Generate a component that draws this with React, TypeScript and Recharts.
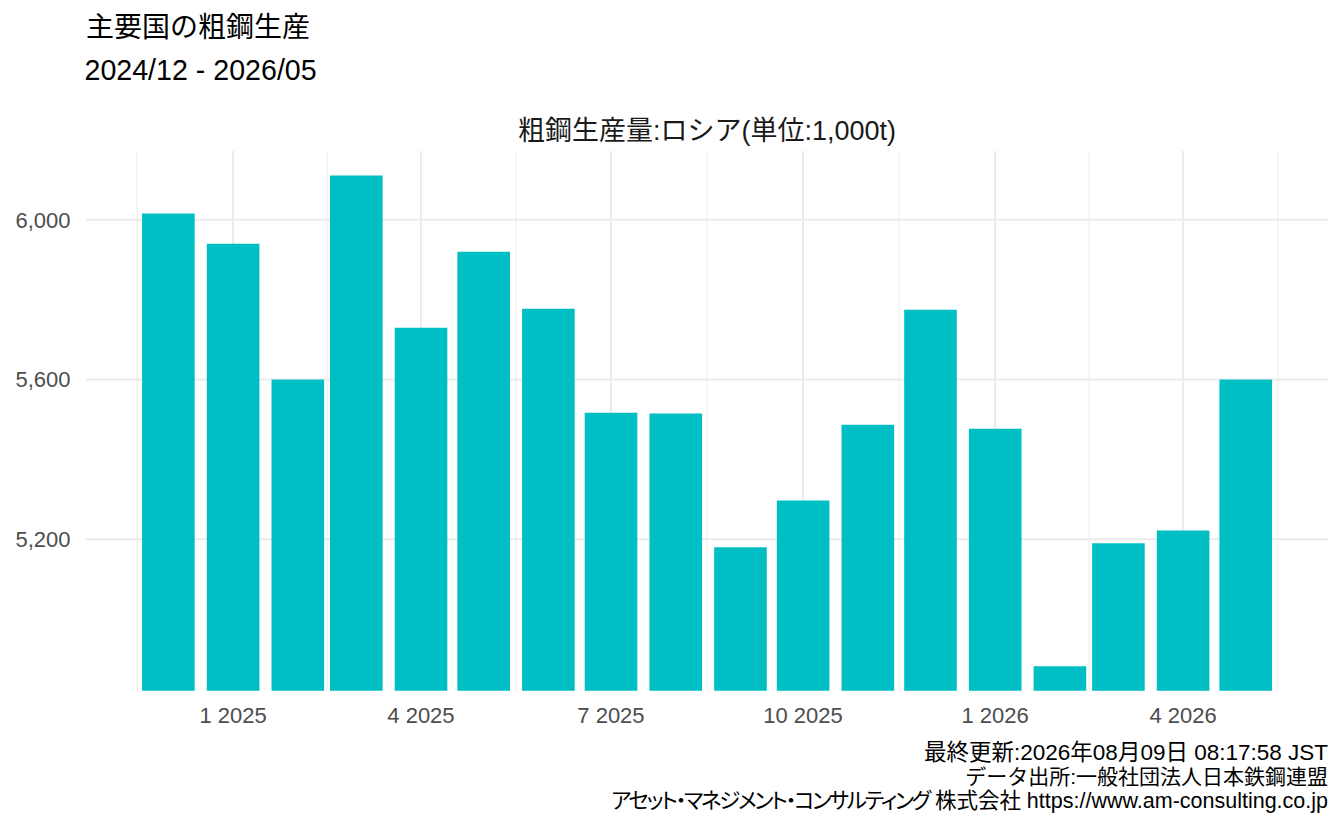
import React from "react";
import { Bar, BarChart, CartesianGrid, XAxis, YAxis } from "recharts";

const months = [
  "2024-12", "2025-01", "2025-02", "2025-03", "2025-04", "2025-05",
  "2025-06", "2025-07", "2025-08", "2025-09", "2025-10", "2025-11",
  "2025-12", "2026-01", "2026-02", "2026-03", "2026-04", "2026-05",
];
const production = [
  6016, 5940, 5600, 6111, 5730, 5920, 5777, 5517, 5515, 5180, 5297, 5487,
  5775, 5477, 4882, 5190, 5222, 5600,
];
const xBreaks = ["2024-10", "2025-01", "2025-04", "2025-07", "2025-10", "2026-01", "2026-04", "2026-07"];
const yTicks = [5200, 5600, 6000];
const yMinorTicks = [5000, 5400, 5800];

const title = "主要国の粗鋼生産";
const subtitle = "2024/12 - 2026/05";
const chartTitle = "粗鋼生産量:ロシア(単位:1,000t)";
const updated = "最終更新:2026年08月09日 08:17:58 JST";
const source = "データ出所:一般社団法人日本鉄鋼連盟";
const company = "アセット・マネジメント・コンサルティング";
const companySuffix = " 株式会社 https://www.am-consulting.co.jp";

const toDay = (ym: string) => {
  const [y, m] = ym.split("-").map(Number);
  return Date.UTC(y, m - 1, 1) / 86400000;
};

const data = months.map((m, i) => ({ t: toDay(m), value: production[i] }));

// ggplot-like limits: bar width 0.9 * smallest gap, then 5% expansion
const days = data.map((d) => d.t);
const minGap = Math.min(...days.slice(1).map((d, i) => d - days[i]));
const halfBar = (0.9 * minGap) / 2;
const xLo = days[0] - halfBar;
const xHi = days[days.length - 1] + halfBar;
const xPad = (xHi - xLo) * 0.05;
const xDomain: [number, number] = [xLo - xPad, xHi + xPad];

const yMin = Math.min(...production);
const yMax = Math.max(...production);
const yPad = (yMax - yMin) * 0.05;
const yDomain: [number, number] = [yMin - yPad, yMax + yPad];

const breakDays = xBreaks.map(toDay);
const xTicks = breakDays.filter((d) => d >= xDomain[0] && d <= xDomain[1]);
const xMinorTicks = breakDays
  .slice(1)
  .map((d, i) => (d + breakDays[i]) / 2)
  .filter((d) => d >= xDomain[0] && d <= xDomain[1]);

const W = 1344;
const H = 830;
const plotLeft = 85.5;
const plotRight = 1328.5;
const plotTop = 151;
const plotBottom = 690.7;
const barSize = ((plotRight - plotLeft) / (xDomain[1] - xDomain[0])) * 2 * halfBar;

const font = "'Liberation Sans', Arial, 'Noto Sans CJK JP', sans-serif";

const fmtMonth = (t: number) => {
  const d = new Date(t * 86400000);
  return `${d.getUTCMonth() + 1} ${d.getUTCFullYear()}`;
};

export default function App() {
  return (
    <div style={{ position: "absolute", left: 0, top: 0, width: W, height: H, background: "#fff", fontFamily: font }}>
      <BarChart
        width={W}
        height={H}
        data={data}
        margin={{ top: plotTop, right: W - plotRight, bottom: 0, left: 0 }}
      >
        <XAxis xAxisId="minor" dataKey="t" type="number" domain={xDomain} ticks={xMinorTicks} hide />
        <YAxis yAxisId="minor" type="number" domain={yDomain} ticks={yMinorTicks} hide />
        <CartesianGrid xAxisId="minor" yAxisId="minor" stroke="#EBEBEB" strokeWidth={1} syncWithTicks />
        <CartesianGrid stroke="#EBEBEB" strokeWidth={2} syncWithTicks />
        <XAxis
          dataKey="t"
          type="number"
          domain={xDomain}
          ticks={xTicks}
          interval={0}
          tickFormatter={fmtMonth}
          axisLine={false}
          tickLine={false}
          tickSize={0}
          tickMargin={17}
          height={H - plotBottom}
          tick={{ fill: "#4D4D4D", fontSize: 22, fontFamily: font }}
        />
        <YAxis
          type="number"
          domain={yDomain}
          ticks={yTicks}
          interval={0}
          tickFormatter={(v: number) => v.toLocaleString("en-US")}
          axisLine={false}
          tickLine={false}
          tickSize={0}
          tickMargin={15}
          width={plotLeft}
          tick={{ fill: "#4D4D4D", fontSize: 22, fontFamily: font }}
        />
        <Bar dataKey="value" fill="#00BFC4" barSize={barSize} isAnimationActive={false} />
      </BarChart>
      <svg
        width={W}
        height={H}
        style={{ position: "absolute", left: 0, top: 0, pointerEvents: "none" }}
        fontFamily={font}
      >
        <text x={86} y={37} fontSize={28} fill="#000">{title}</text>
        <text x={84.5} y={80} fontSize={28.6} fill="#000">{subtitle}</text>
        <text x={(plotLeft + plotRight) / 2} y={140} fontSize={27} fill="#1a1a1a" textAnchor="middle">
          {chartTitle}
        </text>
        <g fill="#000" textAnchor="end">
          <text x={1328} y={760} fontSize={22.5}>{updated}</text>
          <text x={1328} y={784} fontSize={21}>{source}</text>
          <text x={1328} y={808} fontSize={21.5}>
            <tspan style={{ fontFeatureSettings: "'palt'", letterSpacing: "-2.3px" }}>{company}</tspan>
            {companySuffix}
          </text>
        </g>
      </svg>
    </div>
  );
}
